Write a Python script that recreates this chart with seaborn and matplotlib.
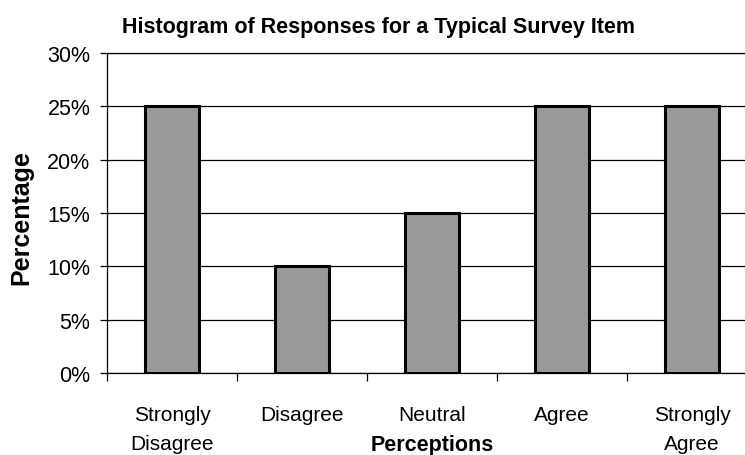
import matplotlib
matplotlib.use("Agg")
import matplotlib.pyplot as plt
from matplotlib.ticker import PercentFormatter, FixedLocator
import seaborn as sns
import pandas as pd

categories = ["Strongly\nDisagree", "Disagree", "Neutral", "Agree", "Strongly\nAgree"]
percentages = [25, 10, 15, 25, 25]
y_ticks = [0, 5, 10, 15, 20, 25, 30]

sns.set_theme(style="white")
plt.rcParams["font.family"] = ["Liberation Sans", "DejaVu Sans"]

df = pd.DataFrame({"Perceptions": categories, "Percentage": percentages})

W, H = 745, 456
fig = plt.figure(figsize=(W / 100, H / 100), dpi=100)
left, right, top, bottom = 107, 757, 54, 374
ax = fig.add_axes([left / W, 1 - bottom / H, (right - left) / W, (bottom - top) / H])

sns.barplot(data=df, x="Perceptions", y="Percentage", order=categories,
            color="#999999", saturation=1, width=0.41,
            edgecolor="black", linewidth=2.2, ax=ax, zorder=3)

ax.set_xlim(-0.5, len(categories) - 0.5)
ax.set_ylim(0, 30)
ax.yaxis.set_major_locator(FixedLocator(y_ticks))
ax.yaxis.set_major_formatter(PercentFormatter(decimals=0))
ax.grid(axis="y", color="black", linewidth=0.9, zorder=0)
ax.grid(axis="x", visible=False)

for side in ("left", "bottom", "top"):
    ax.spines[side].set_visible(True)
    ax.spines[side].set_color("black")
    ax.spines[side].set_linewidth(0.9)
ax.spines["right"].set_visible(False)

ax.tick_params(axis="y", which="major", direction="out", length=5, width=0.9,
               color="black", pad=7, labelsize=15.5, labelcolor="black", left=True)
ax.tick_params(axis="x", which="major", length=0, pad=23, labelsize=15,
               labelcolor="black")
ax.set_xticks(range(len(categories)))
ax.set_xticklabels(categories, linespacing=1.7)
ax.set_xticks([i - 0.5 for i in range(len(categories) + 1)], minor=True)
ax.tick_params(axis="x", which="minor", direction="out", length=6, width=0.9,
               color="black", bottom=True)

ax.set_xlabel("")
fig.text(432 / W, 1 - 446 / H, "Perceptions", ha="center", va="center",
         fontsize=15.5, fontweight="bold", color="black")
ax.set_ylabel("")
fig.text(21 / W, 1 - 218 / H, "Percentage", ha="center", va="center",
         rotation=90, fontsize=18, fontweight="bold", color="black")

fig.text(378 / W, 1 - 27 / H, "Histogram of Responses for a Typical Survey Item",
         ha="center", va="center", fontsize=15.5, fontweight="bold", color="black")

fig.savefig("out.png", dpi=100, facecolor="white")
